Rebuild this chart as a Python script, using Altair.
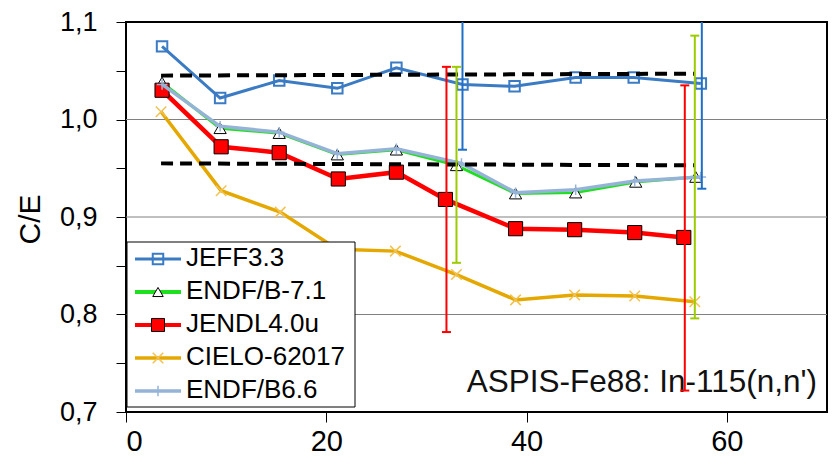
import altair as alt
import pandas as pd

# ---------------- data ----------------
series_names = ["JEFF3.3", "ENDF/B-7.1", "JENDL4.0u", "CIELO-62017", "ENDF/B6.6"]

jeff_x = [3.6, 9.4, 15.3, 21.1, 27.0, 33.6, 38.8, 44.9, 50.7, 57.4]
jeff_y = [1.075, 1.022, 1.040, 1.032, 1.053, 1.036, 1.034, 1.043, 1.043, 1.037]

endf71_x = [3.6, 9.4, 15.3, 21.1, 27.0, 33.0, 38.9, 44.9, 50.9, 56.9]
endf71_y = [1.038, 0.991, 0.986, 0.964, 0.969, 0.953, 0.924, 0.925, 0.936, 0.941]

jendl_x = [3.6, 9.5, 15.3, 21.2, 27.0, 31.9, 38.9, 44.8, 50.8, 55.7]
jendl_y = [1.030, 0.972, 0.966, 0.939, 0.946, 0.918, 0.888, 0.887, 0.884, 0.879]

cielo_x = [3.5, 9.5, 15.4, 21.1, 26.9, 33.0, 38.9, 44.8, 50.8, 56.8]
cielo_y = [1.008, 0.927, 0.905, 0.867, 0.865, 0.841, 0.815, 0.820, 0.819, 0.813]

endf66_x = [3.6, 9.4, 15.3, 21.1, 27.0, 33.5, 38.9, 44.9, 50.8, 57.4]
endf66_y = [1.036, 0.993, 0.987, 0.965, 0.970, 0.955, 0.925, 0.928, 0.937, 0.941]

# experimental uncertainty bands (C/E ranges)
err_series = ["JENDL4.0u", "ENDF/B-7.1", "JEFF3.3", "JENDL4.0u", "ENDF/B-7.1", "JEFF3.3"]
err_x = [32.0, 33.0, 33.6, 55.8, 56.8, 57.5]
err_lo = [0.782, 0.853, 0.969, 0.722, 0.796, 0.929]
err_hi = [1.054, 1.054, 1.103, 1.035, 1.086, 1.145]

# dashed reference band
band_x = [3.5, 56.8]
band_upper = [1.045, 1.047]
band_lower = [0.955, 0.953]

grid_values = [0.8, 0.9, 1.0]
x_tick_values = [0, 20, 40, 60]
y_tick_values = [0.7, 0.75, 0.8, 0.85, 0.9, 0.95, 1.0, 1.05, 1.1]

annotation = "ASPIS-Fe88: In-115(n,n')"
y_title = "C/E"

# ---------------- styles ----------------
FONT = "Liberation Sans"
C_JEFF = "#3B7BC4"
C_E71 = "#1EE01E"
C_JENDL = "#FF0000"
C_CIELO = "#E5A800"
C_CIELO_M = "#F2C150"
C_E66 = "#95B3D7"
err_colors = {"JENDL4.0u": "#FF0000", "ENDF/B-7.1": "#9CCC00", "JEFF3.3": "#1E6FC8"}

X_PATH = "M-1,-1L1,1M-1,1L1,-1"
PLUS_PATH = "M-1,0L1,0M0,-1L0,1"

x_scale = alt.Scale(domain=[0, 70], nice=False, zero=False)
y_scale = alt.Scale(domain=[0.7, 1.1], nice=False, zero=False)

x_axis = alt.Axis(values=x_tick_values, title=None, grid=False, domain=False,
                  tickSize=10, tickColor="black", tickWidth=1,
                  labelFont=FONT, labelFontSize=29, labelColor="black", labelPadding=5)
y_axis = alt.Axis(values=y_tick_values, title=y_title, grid=False, domain=False,
                  tickSize=10, tickColor="black", tickWidth=1,
                  labelFont=FONT, labelFontSize=27, labelColor="black", labelPadding=19,
                  labelExpr="abs(round(datum.value*100) % 10) == 0 ? replace(format(datum.value, '.1f'), '.', ',') : ''",
                  titleFont=FONT, titleFontSize=30, titleFontWeight="normal", titleColor="black",
                  titleX=-96, titleY=197, titleAngle=-90, titleAlign="center", titleBaseline="middle")


def X(field):
    return alt.X(field, type="quantitative", scale=x_scale, axis=x_axis)


def Y(field):
    return alt.Y(field, type="quantitative", scale=y_scale, axis=y_axis)


layers = []

# gridlines
grid_df = pd.DataFrame({"g": grid_values})
layers.append(alt.Chart(grid_df).mark_rule(color="#808080", strokeWidth=1).encode(y=Y("g")))

# annotation
layers.append(alt.Chart(pd.DataFrame({"t": [annotation]})).mark_text(
    font=FONT, fontSize=31.5, align="right", baseline="alphabetic", color="#111111"
).encode(x=alt.value(691), y=alt.value(370), text="t:N"))


def series_layer(xs, ys, line_color, line_width, point_kw):
    df = pd.DataFrame({"x": xs, "y": ys})
    base = alt.Chart(df).encode(x=X("x"), y=Y("y"))
    line = base.mark_line(color=line_color, strokeWidth=line_width)
    pts = base.mark_point(**point_kw)
    return [line, pts]


jeff_pt = dict(shape="square", size=110, filled=False, stroke=C_JEFF, strokeWidth=2, opacity=1)
e71_pt = dict(shape="triangle-up", size=150, filled=True, fill="white", stroke="black", strokeWidth=1, opacity=1)
jendl_pt = dict(shape="square", size=200, filled=True, fill=C_JENDL, stroke="black", strokeWidth=1, opacity=1)
cielo_pt = dict(shape=X_PATH, size=110, filled=False, stroke=C_CIELO_M, strokeWidth=1.5, opacity=1)
e66_pt = dict(shape=PLUS_PATH, size=110, filled=False, stroke=C_E66, strokeWidth=1.5, opacity=1)

layers += series_layer(jeff_x, jeff_y, C_JEFF, 3, jeff_pt)
layers += series_layer(endf71_x, endf71_y, C_E71, 3, e71_pt)
layers += series_layer(jendl_x, jendl_y, C_JENDL, 4.5, jendl_pt)
layers += series_layer(cielo_x, cielo_y, C_CIELO, 3.5, cielo_pt)
layers += series_layer(endf66_x, endf66_y, C_E66, 3.5, e66_pt)

# dashed band
band_df = pd.DataFrame({
    "x": band_x + band_x,
    "y": band_upper + band_lower,
    "g": ["upper"] * len(band_x) + ["lower"] * len(band_x),
})
layers.append(alt.Chart(band_df).mark_line(color="black", strokeWidth=4, strokeDash=[12, 7]).encode(
    x=X("x"), y=Y("y"), detail="g:N"))

# error bars
err_df = pd.DataFrame({"x": err_x, "lo": err_lo, "hi": err_hi,
                       "c": [err_colors[s] for s in err_series]})
eb = alt.Chart(err_df)
layers.append(eb.mark_rule(strokeWidth=2, clip=True).encode(
    x=X("x"), y=Y("lo"), y2="hi:Q", color=alt.Color("c:N", scale=None)))
layers.append(eb.mark_point(shape="stroke", size=81, strokeWidth=2, filled=False, opacity=1, clip=True).encode(
    x=X("x"), y=Y("lo"), color=alt.Color("c:N", scale=None)))
layers.append(eb.mark_point(shape="stroke", size=81, strokeWidth=2, filled=False, opacity=1, clip=True).encode(
    x=X("x"), y=Y("hi"), color=alt.Color("c:N", scale=None)))

# legend box
one = pd.DataFrame({"k": [0]})
layers.append(alt.Chart(one).mark_rect(fill="white", stroke="black", strokeWidth=1).encode(
    x=alt.value(1), x2=alt.value(229), y=alt.value(220), y2=alt.value(385)))

legend_styles = [
    (C_JEFF, 3, jeff_pt),
    (C_E71, 4, e71_pt),
    (C_JENDL, 4, jendl_pt),
    (C_CIELO, 3.5, cielo_pt),
    (C_E66, 3.5, e66_pt),
]
for i, name in enumerate(series_names):
    col, lw, pk = legend_styles[i]
    yc = 237 + 33 * i
    ndf = pd.DataFrame({"name": [name]})
    layers.append(alt.Chart(ndf).mark_rule(color=col, strokeWidth=lw).encode(
        x=alt.value(9), x2=alt.value(55), y=alt.value(yc)))
    lpk = dict(pk)
    if name == "JENDL4.0u":
        lpk["size"] = 170
    if name == "ENDF/B-7.1":
        lpk["size"] = 110
    layers.append(alt.Chart(ndf).mark_point(**lpk).encode(x=alt.value(32), y=alt.value(yc)))
    layers.append(alt.Chart(ndf).mark_text(font=FONT, fontSize=26, align="left", baseline="alphabetic",
                                           color="black").encode(
        x=alt.value(60), y=alt.value(yc + 7), text="name:N"))

chart = alt.layer(*layers).properties(
    width=701, height=390,
    padding={"left": 118, "top": 14, "right": 2, "bottom": 50},
    autosize=alt.AutoSizeParams(type="none"),
    background="white",
).configure_view(stroke="black", strokeWidth=2)

chart.save("out.html", embed_options={"renderer": "svg", "actions": False})
